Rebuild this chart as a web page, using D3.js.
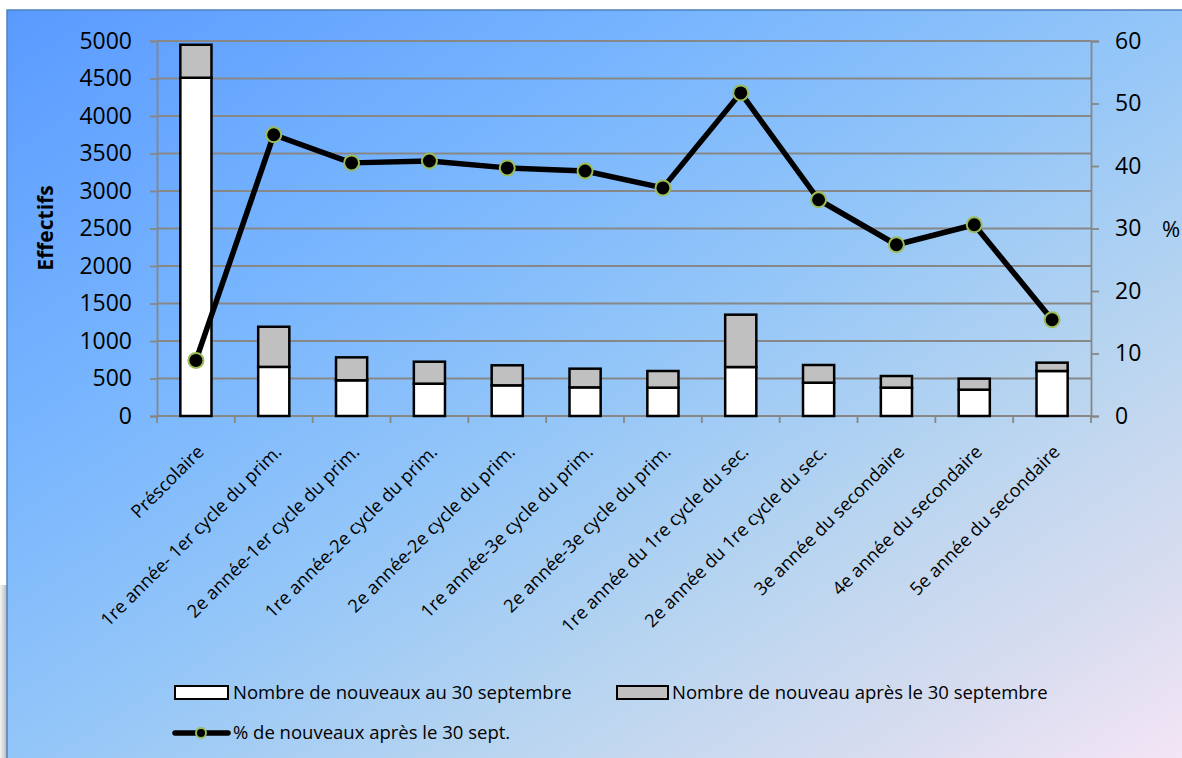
<!DOCTYPE html>
<html><head><meta charset="utf-8">
<script src="https://cdn.jsdelivr.net/npm/d3@7"></script>
<style>html,body{margin:0;padding:0;background:#fff;overflow:hidden}svg{display:block}</style>
</head><body>
<svg id="c" width="1182" height="758"></svg>
<script>
const categories = ["Préscolaire","1re année- 1er cycle du prim.","2e année-1er cycle du prim.","1re année-2e cycle du prim.","2e année-2e cycle du prim.","1re année-3e cycle du prim.","2e année-3e cycle du prim.","1re année du 1re cycle du sec.","2e année du 1re cycle du sec.","3e année du secondaire","4e année du secondaire","5e année du secondaire"];
const nouveauxAu30 = [4510, 655, 476, 431, 409, 382, 378, 653, 444, 378, 351, 600];
const nouveauxApres30 = [440, 535, 306, 293, 267, 249, 222, 698, 236, 155, 147, 111];
const pctApres = [8.9, 45.0, 40.5, 40.8, 39.7, 39.2, 36.5, 51.7, 34.6, 27.4, 30.6, 15.4];
const leftTicks = [0,500,1000,1500,2000,2500,3000,3500,4000,4500,5000];
const rightTicks = [0,10,20,30,40,50,60];
const seriesNames = ["Nombre de nouveaux au 30 septembre","Nombre de nouveau après le 30 septembre","% de nouveaux après le 30 sept."];

const svg = d3.select("#c");
const font = "'Open Sans', sans-serif";
const defs = svg.append("defs");
const g = defs.append("linearGradient").attr("id","bg").attr("x1",0).attr("y1",0).attr("x2",1).attr("y2",1);
[[0,"#5a9aff"],[0.3,"#79b6fe"],[0.5,"#94c6f8"],[0.68,"#b6d4f0"],[0.85,"#d6dcef"],[1,"#f6e6f6"]].forEach(s=>g.append("stop").attr("offset",s[0]).attr("stop-color",s[1]));
const sh = defs.append("linearGradient").attr("id","sh").attr("x1",0).attr("y1",0).attr("x2",1).attr("y2",0);
sh.append("stop").attr("offset",0).attr("stop-color","#f4f4f4");
sh.append("stop").attr("offset",1).attr("stop-color","#b8b8b8");

svg.append("rect").attr("x",0).attr("y",585).attr("width",7).attr("height",180).attr("fill","url(#sh)");
svg.append("rect").attr("x",7).attr("y",10).attr("width",1190).attr("height",760).attr("fill","url(#bg)").attr("stroke","#4f81bd").attr("stroke-width",1.5);

const L=157, R=1091, T=41, B=416;
const x = d3.scaleBand().domain(categories).range([L,R]).paddingInner(0.6).paddingOuter(0.3);
const y = d3.scaleLinear().domain([0,5000]).range([B,T]);
const y2 = d3.scaleLinear().domain([0,60]).range([B,T]);
const grid = "#878787";

// gridlines
svg.append("g").selectAll("line").data(leftTicks.slice(1)).join("line")
  .attr("x1",L).attr("x2",R).attr("y1",d=>y(d)).attr("y2",d=>y(d))
  .attr("stroke",grid).attr("stroke-width",1.8);

// left axis
const la = svg.append("g").attr("transform",`translate(${L},0)`)
  .call(d3.axisLeft(y).tickValues(leftTicks).tickFormat(d3.format("d")).tickSize(7).tickPadding(18));
la.select(".domain").attr("stroke",grid).attr("stroke-width",1.8);
la.selectAll(".tick line").attr("stroke",grid).attr("stroke-width",1.8);
la.selectAll("text").attr("font-family",font).attr("font-size",23).attr("fill","#000");

// right axis
const ra = svg.append("g").attr("transform",`translate(${R},0)`)
  .call(d3.axisRight(y2).tickValues(rightTicks).tickFormat(d3.format("d")).tickSize(8).tickPadding(16));
ra.select(".domain").attr("stroke",grid).attr("stroke-width",1.8);
ra.selectAll(".tick line").attr("stroke",grid).attr("stroke-width",1.8);
ra.selectAll("text").attr("font-family",font).attr("font-size",23).attr("fill","#000");

// bottom axis
const step = x.step();
const bounds = d3.range(categories.length+1).map(i=>L + i*step);
svg.append("line").attr("x1",L).attr("x2",R).attr("y1",B).attr("y2",B).attr("stroke",grid).attr("stroke-width",1.8);
svg.append("g").selectAll("line").data(bounds).join("line")
  .attr("x1",d=>d).attr("x2",d=>d).attr("y1",B).attr("y2",B+7).attr("stroke",grid).attr("stroke-width",1.8);

// bars
const bw = x.bandwidth();
const bars = svg.append("g");
bars.selectAll("rect.w").data(categories).join("rect").attr("class","w")
  .attr("x",d=>x(d)).attr("width",bw)
  .attr("y",(d,i)=>y(nouveauxAu30[i])).attr("height",(d,i)=>y(0)-y(nouveauxAu30[i]))
  .attr("fill","#fff").attr("stroke","#000").attr("stroke-width",2.5);
bars.selectAll("rect.g").data(categories).join("rect").attr("class","g")
  .attr("x",d=>x(d)).attr("width",bw)
  .attr("y",(d,i)=>y(nouveauxAu30[i]+nouveauxApres30[i])).attr("height",(d,i)=>y(nouveauxAu30[i])-y(nouveauxAu30[i]+nouveauxApres30[i]))
  .attr("fill","#c0c0c0").attr("stroke","#000").attr("stroke-width",2.5);

// line
const cx = d=>x(d)+bw/2;
svg.append("path").datum(categories)
  .attr("d",d3.line().x(d=>cx(d)).y((d,i)=>y2(pctApres[i])))
  .attr("fill","none").attr("stroke","#000").attr("stroke-width",5.5).attr("stroke-linejoin","round");
svg.append("g").selectAll("circle").data(categories).join("circle")
  .attr("cx",d=>cx(d)).attr("cy",(d,i)=>y2(pctApres[i])).attr("r",7.5)
  .attr("fill","#000").attr("stroke","#9bbb59").attr("stroke-width",2);

// category labels
svg.append("g").selectAll("text").data(categories).join("text")
  .attr("transform",d=>`translate(${cx(d)+9},${B+37}) rotate(-45)`)
  .attr("text-anchor","end").attr("font-family",font).attr("font-size",18.2).attr("fill","#000")
  .text(d=>d);

// axis titles
svg.append("text").attr("transform","translate(53,228) rotate(-90)").attr("text-anchor","middle")
  .attr("font-family",font).attr("font-size",21).attr("font-weight","bold").text("Effectifs");
svg.append("text").attr("x",1162).attr("y",237).attr("font-family",font).attr("font-size",22).text("%");

// legend
const lg = svg.append("g").attr("font-family",font).attr("font-size",18.5);
lg.append("rect").attr("x",175).attr("y",686).attr("width",53).attr("height",13).attr("fill","#fff").attr("stroke","#000").attr("stroke-width",2);
lg.append("text").attr("x",233).attr("y",699).text(seriesNames[0]);
lg.append("rect").attr("x",617).attr("y",686).attr("width",51).attr("height",13).attr("fill","#c0c0c0").attr("stroke","#000").attr("stroke-width",2);
lg.append("text").attr("x",672).attr("y",699).text(seriesNames[1]);
lg.append("line").attr("x1",175).attr("x2",228).attr("y1",733).attr("y2",733).attr("stroke","#000").attr("stroke-width",5.5).attr("stroke-linecap","round");
lg.append("circle").attr("cx",201).attr("cy",733).attr("r",5).attr("fill","#000").attr("stroke","#9bbb59").attr("stroke-width",2);
lg.append("text").attr("x",233).attr("y",739).text(seriesNames[2]);
</script>
</body></html>
